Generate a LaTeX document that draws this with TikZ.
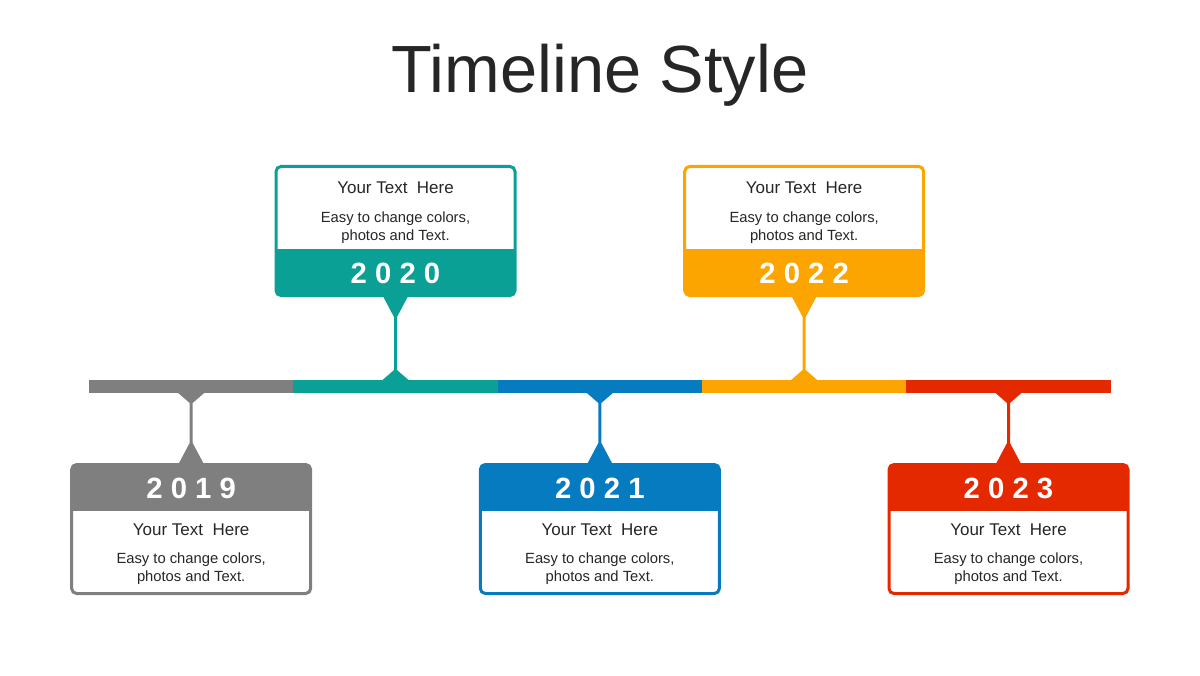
\documentclass[tikz,border=0pt]{standalone}
\usepackage{fontspec}
\setmainfont{Liberation Sans}
\definecolor{tlgray}{HTML}{7F7F7F}
\definecolor{tlteal}{HTML}{0BA096}
\definecolor{tlblue}{HTML}{077BC0}
\definecolor{tlorange}{HTML}{FCA400}
\definecolor{tlred}{HTML}{E42800}
\definecolor{tltext}{HTML}{262626}

\begin{document}
\begin{tikzpicture}[
  card/.style={draw=#1, line width=0.09cm, fill=white, rounded corners=0.15cm,
               minimum width=7.17cm, minimum height=3.87cm, inner sep=0pt},
  topcard/.style={card=#1, path picture={\fill[#1, sharp corners] (path picture bounding box.south west)
                  rectangle ([yshift=1.395cm]path picture bounding box.south east);}},
  botcard/.style={card=#1, path picture={\fill[#1, sharp corners] (path picture bounding box.north west)
                  rectangle ([yshift=-1.395cm]path picture bounding box.north east);}},
  seg/.style={fill=#1, minimum width=6.13cm, minimum height=0.39cm, inner sep=0pt, outer sep=0pt},
  title/.style={font=\fontsize{57}{60}\selectfont, text=tltext},
  year/.style={font=\fontsize{25}{30}\selectfont\bfseries, text=white, inner sep=0pt},
  headline/.style={font=\fontsize{14.5}{17}\selectfont, text=tltext, inner sep=0pt},
  body/.style={font=\fontsize{12.6}{15.4}\selectfont, text=tltext, align=center, inner sep=0pt}
]
  \useasboundingbox (0,0) rectangle (36,20.25);
  \node[title, anchor=base] (title) at (18,17.46) {Timeline Style};

  % timeline bar
  \node[seg=tlgray] (seg2019) at (5.735,8.655) {};
  \node[seg=tlteal] (seg2020) at (11.865,8.655) {};
  \node[seg=tlblue] (seg2021) at (17.995,8.655) {};
  \node[seg=tlorange] (seg2022) at (24.125,8.655) {};
  \node[seg=tlred] (seg2023) at (30.255,8.655) {};

  % cards
  \node[botcard=tlgray] (box2019) at (5.735,4.38) {};
  \node[topcard=tlteal] (box2020) at (11.865,13.32) {};
  \node[botcard=tlblue] (box2021) at (17.995,4.38) {};
  \node[topcard=tlorange] (box2022) at (24.125,13.32) {};
  \node[botcard=tlred] (box2023) at (30.255,4.38) {};

  \node[year] (yr2019) at ([yshift=1.23cm]box2019.center) {2 0 1 9};
  \node[headline] (head2019) at ([yshift=-0.02cm]box2019.center) {Your Text~~Here};
  \node[body] (txt2019) at ([yshift=-1.2cm]box2019.center) {Easy to change colors,\\photos and Text.};
  \node[year] (yr2020) at ([yshift=-1.26cm]box2020.center) {2 0 2 0};
  \node[headline] (head2020) at ([yshift=1.3cm]box2020.center) {Your Text~~Here};
  \node[body] (txt2020) at ([yshift=0.09cm]box2020.center) {Easy to change colors,\\photos and Text.};
  \node[year] (yr2021) at ([yshift=1.23cm]box2021.center) {2 0 2 1};
  \node[headline] (head2021) at ([yshift=-0.02cm]box2021.center) {Your Text~~Here};
  \node[body] (txt2021) at ([yshift=-1.2cm]box2021.center) {Easy to change colors,\\photos and Text.};
  \node[year] (yr2022) at ([yshift=-1.26cm]box2022.center) {2 0 2 2};
  \node[headline] (head2022) at ([yshift=1.3cm]box2022.center) {Your Text~~Here};
  \node[body] (txt2022) at ([yshift=0.09cm]box2022.center) {Easy to change colors,\\photos and Text.};
  \node[year] (yr2023) at ([yshift=1.23cm]box2023.center) {2 0 2 3};
  \node[headline] (head2023) at ([yshift=-0.02cm]box2023.center) {Your Text~~Here};
  \node[body] (txt2023) at ([yshift=-1.2cm]box2023.center) {Easy to change colors,\\photos and Text.};

  % connectors
  \fill[tlgray] ([xshift=-0.39cm]seg2019.south) -- ([xshift=-0.045cm,yshift=-0.3cm]seg2019.south)
    -- ([xshift=-0.045cm,yshift=0.6cm]box2019.north) -- ([xshift=-0.39cm,yshift=-0.05cm]box2019.north)
    -- ([xshift=0.39cm,yshift=-0.05cm]box2019.north) -- ([xshift=0.045cm,yshift=0.6cm]box2019.north)
    -- ([xshift=0.045cm,yshift=-0.3cm]seg2019.south) -- ([xshift=0.39cm]seg2019.south) -- cycle;
  \fill[tlteal] ([xshift=-0.39cm,yshift=0.05cm]box2020.south) -- ([xshift=-0.045cm,yshift=-0.6cm]box2020.south)
    -- ([xshift=-0.045cm,yshift=0.3cm]seg2020.north) -- ([xshift=-0.39cm]seg2020.north)
    -- ([xshift=0.39cm]seg2020.north) -- ([xshift=0.045cm,yshift=0.3cm]seg2020.north)
    -- ([xshift=0.045cm,yshift=-0.6cm]box2020.south) -- ([xshift=0.39cm,yshift=0.05cm]box2020.south) -- cycle;
  \fill[tlblue] ([xshift=-0.39cm]seg2021.south) -- ([xshift=-0.045cm,yshift=-0.3cm]seg2021.south)
    -- ([xshift=-0.045cm,yshift=0.6cm]box2021.north) -- ([xshift=-0.39cm,yshift=-0.05cm]box2021.north)
    -- ([xshift=0.39cm,yshift=-0.05cm]box2021.north) -- ([xshift=0.045cm,yshift=0.6cm]box2021.north)
    -- ([xshift=0.045cm,yshift=-0.3cm]seg2021.south) -- ([xshift=0.39cm]seg2021.south) -- cycle;
  \fill[tlorange] ([xshift=-0.39cm,yshift=0.05cm]box2022.south) -- ([xshift=-0.045cm,yshift=-0.6cm]box2022.south)
    -- ([xshift=-0.045cm,yshift=0.3cm]seg2022.north) -- ([xshift=-0.39cm]seg2022.north)
    -- ([xshift=0.39cm]seg2022.north) -- ([xshift=0.045cm,yshift=0.3cm]seg2022.north)
    -- ([xshift=0.045cm,yshift=-0.6cm]box2022.south) -- ([xshift=0.39cm,yshift=0.05cm]box2022.south) -- cycle;
  \fill[tlred] ([xshift=-0.39cm]seg2023.south) -- ([xshift=-0.045cm,yshift=-0.3cm]seg2023.south)
    -- ([xshift=-0.045cm,yshift=0.6cm]box2023.north) -- ([xshift=-0.39cm,yshift=-0.05cm]box2023.north)
    -- ([xshift=0.39cm,yshift=-0.05cm]box2023.north) -- ([xshift=0.045cm,yshift=0.6cm]box2023.north)
    -- ([xshift=0.045cm,yshift=-0.3cm]seg2023.south) -- ([xshift=0.39cm]seg2023.south) -- cycle;
\end{tikzpicture}
\end{document}
